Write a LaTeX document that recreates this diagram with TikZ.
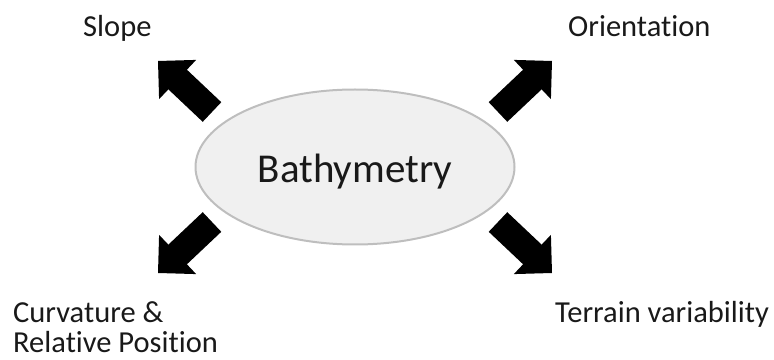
\documentclass[tikz,border=0pt]{standalone}
\usepackage{fontspec}
\setmainfont{Carlito}[Ligatures={NoCommon}]
\usetikzlibrary{arrows.meta, positioning, shapes.geometric, calc}
\definecolor{hubfill}{HTML}{F0F0F0}
\definecolor{hubline}{HTML}{BEBEBE}
\tikzset{
  hub/.style ={ellipse, draw=hubline, line width=2pt, fill=hubfill,
               minimum width=319pt, minimum height=155pt, inner sep=0pt,
               text height=32pt, text depth=0pt, text=black!90,
               font=\fontsize{41}{48}\selectfont},
  lbl/.style ={inner sep=0pt, anchor=base west, text=black!90, align=left,
               font=\fontsize{30.5}{30}\selectfont},
  % block arrow: shaft 27pt, head 54pt wide and 27pt long
  fat/.style ={fill=black, to path={
      ($(\tikztostart)!13.5pt!90:(\tikztotarget)$)
      -- ($(\tikztotarget)!27pt!(\tikztostart)!13.5pt!90:(\tikztotarget)$)
      -- ($(\tikztotarget)!27pt!(\tikztostart)!27pt!90:(\tikztotarget)$)
      -- (\tikztotarget)
      -- ($(\tikztotarget)!27pt!(\tikztostart)!27pt!-90:(\tikztotarget)$)
      -- ($(\tikztotarget)!27pt!(\tikztostart)!13.5pt!-90:(\tikztotarget)$)
      -- ($(\tikztostart)!13.5pt!-90:(\tikztotarget)$) -- cycle}}
}
\begin{document}
\begin{tikzpicture}[x=1pt, y=1pt]
    \useasboundingbox (0,0) rectangle (774,359);
    \node[hub] (bathy) at (355,192) {Bathymetry};
    % labels
    \node[lbl] (slope) at (83,322) {Slope};
    \node[lbl] (orient) at (568,322) {Orientation};
    \node[lbl] (curv) at (13,7) {Curvature \&\\Relative Position};
    \node[lbl] (terrain) at (555,37) {Terrain variability};
    % arrow ends
    \coordinate (sl-t) at ($(bathy.center)+(-143,55)$);
    \coordinate (sl-h) at ($(bathy.center)+(-197,106)$);
    \coordinate (or-t) at ($(bathy.center)+(143,55)$);
    \coordinate (or-h) at ($(bathy.center)+(197,106)$);
    \coordinate (cu-t) at ($(bathy.center)+(-143,-55)$);
    \coordinate (cu-h) at ($(bathy.center)+(-197,-106)$);
    \coordinate (te-t) at ($(bathy.center)+(143,-55)$);
    \coordinate (te-h) at ($(bathy.center)+(197,-106)$);
    \path[fat] (sl-t) to (sl-h);
    \path[fat] (or-t) to (or-h);
    \path[fat] (cu-t) to (cu-h);
    \path[fat] (te-t) to (te-h);
\end{tikzpicture}
\end{document}
